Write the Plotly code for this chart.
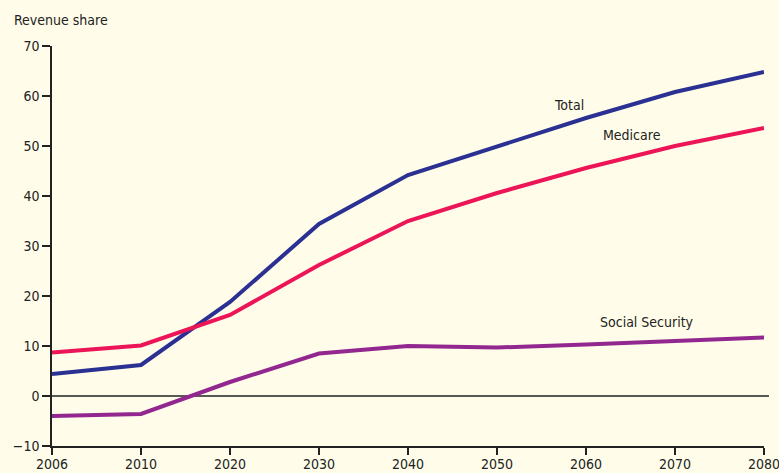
import plotly.graph_objects as go

years = ["2006", "2010", "2020", "2030", "2040", "2050", "2060", "2070", "2080"]
total = [4.4, 6.2, 18.8, 34.4, 44.2, 50.0, 55.6, 60.8, 64.8]
medicare = [8.7, 10.1, 16.2, 26.2, 35.0, 40.6, 45.6, 50.0, 53.6]
social_security = [-4.0, -3.6, 2.8, 8.5, 10.0, 9.7, 10.3, 11.0, 11.7]
y_ticks = [-10, 0, 10, 20, 30, 40, 50, 60, 70]
y_tick_text = ["\u221210", "0", "10", "20", "30", "40", "50", "60", "70"]

x_idx = list(range(len(years)))
FONT = "DejaVu Sans Condensed, Liberation Sans, sans-serif"
BG = "#FFFDE9"

fig = go.Figure()
series = [
    ("Total", total, "#2B3192"),
    ("Medicare", medicare, "#EC1558"),
    ("Social Security", social_security, "#922790"),
]
for name, vals, col in series:
    fig.add_trace(go.Scatter(x=x_idx, y=vals, mode="lines", name=name,
                             line=dict(color=col, width=4), showlegend=False))

fig.add_shape(type="line", xref="paper", yref="y", x0=0, x1=1.007, y0=0, y1=0,
              line=dict(color="#222222", width=1.5), layer="below")

labels = [("Total", 5.81, 58.2), ("Medicare", 6.52, 52.2), ("Social Security", 6.69, 14.8)]
for t, x, y in labels:
    fig.add_annotation(x=x, y=y, text=t, showarrow=False,
                       font=dict(family=FONT, size=14, color="#222222"))

fig.add_annotation(xref="paper", yref="paper", x=-0.056, y=1.065, xanchor="left",
                   yanchor="middle", text="Revenue share", showarrow=False,
                   font=dict(family=FONT, size=14, color="#222222"))

fig.update_layout(
    width=779, height=473,
    margin=dict(l=52, r=15, t=46, b=27, autoexpand=False),
    paper_bgcolor=BG, plot_bgcolor=BG,
    font=dict(family=FONT, size=14, color="#222222"),
)
fig.update_xaxes(range=[0, 8], tickmode="array", tickvals=x_idx, ticktext=years,
                 showgrid=False, zeroline=False, showline=True, linecolor="#222222",
                 linewidth=1.5, ticks="outside", ticklen=7, tickwidth=1.5,
                 tickcolor="#222222", automargin=False, ticklabeloverflow="allow",
                 ticklabelstandoff=-3)
fig.update_yaxes(range=[-10, 70], tickmode="array", tickvals=y_ticks,
                 ticktext=y_tick_text, showgrid=False, zeroline=False,
                 showline=True, linecolor="#222222", linewidth=1.5,
                 ticks="outside", ticklen=8, tickwidth=1.5, tickcolor="#222222",
                 automargin=False, ticklabeloverflow="allow")

fig.write_html(
    "out.html",
    config={"displayModeBar": False},
    post_script="document.body.style.margin='0';document.body.style.background='#FFFDE9';",
)
